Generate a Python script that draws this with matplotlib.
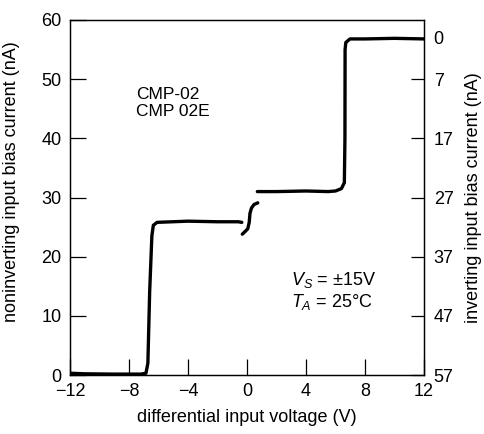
import matplotlib
matplotlib.use('Agg')
import matplotlib.pyplot as plt
import numpy as np

plt.rcParams['font.family'] = ['Liberation Sans', 'DejaVu Sans']
plt.rcParams['axes.unicode_minus'] = True
plt.rcParams['mathtext.fontset'] = 'custom'
plt.rcParams['mathtext.rm'] = 'Liberation Sans'
plt.rcParams['mathtext.it'] = 'Liberation Sans:italic'

# curve pieces (V, nA)
low_x = [-12, -11, -9, -7.2, -6.85, -6.72, -6.6, -6.45, -6.35, -6.1, -4, -2, -0.6, -0.35]
low_y = [0.3, 0.2, 0.15, 0.15, 0.3, 2.0, 14.0, 23.5, 25.3, 25.8, 26.0, 25.9, 25.9, 25.8]

mid_x = [-0.32, -0.15, 0.05, 0.15, 0.2, 0.3, 0.47, 0.73]
mid_y = [23.8, 24.2, 24.7, 25.8, 27.3, 28.2, 28.8, 29.1]

high_x = [0.7, 2, 4, 5.5, 6.0, 6.4, 6.6, 6.64, 6.65, 6.7, 6.98, 8, 10, 12]
high_y = [31.0, 31.0, 31.1, 31.0, 31.1, 31.5, 32.5, 40.0, 55.0, 56.2, 56.8, 56.8, 56.9, 56.8]

xticks = [-12, -8, -4, 0, 4, 8, 12]
yticks_left = [0, 10, 20, 30, 40, 50, 60]
yticks_right = [0, 7, 17, 27, 37, 47, 57]

fig = plt.figure(figsize=(4.85, 4.34), dpi=100)
ax = fig.add_axes([70 / 485, 1 - 375 / 434, 354 / 485, 355 / 434])

for xs, ys in [(low_x, low_y), (mid_x, mid_y), (high_x, high_y)]:
    ax.plot(xs, ys, color='black', lw=2.4, solid_capstyle='round', solid_joinstyle='round')

ax.set_xlim(-12, 12)
ax.set_ylim(0, 60)
ax.set_xticks(xticks)
ax.set_yticks(yticks_left)
ax.tick_params(direction='in', length=11.5, width=0.9, labelsize=13, pad=6)
for s in ax.spines.values():
    s.set_linewidth(0.9)

ax.set_xlabel('differential input voltage (V)', fontsize=13)
ax.xaxis.set_label_coords(0.5, -0.095)
ax.set_ylabel('noninverting input bias current (nA)', fontsize=13)
ax.yaxis.set_label_coords(-0.141, 0.546)

# right axis: inverting current, 0 at the top level of the curve
ax2 = ax.twinx()
ax2.set_ylim(57, -3)
ax2.set_yticks(yticks_right)
ax2.tick_params(direction='in', length=9.5, width=0.9, labelsize=13, pad=7)
ax2.set_ylabel('inverting input bias current (nA)', fontsize=13)
ax2.yaxis.set_label_coords(1.116, 0.50)
for s in ax2.spines.values():
    s.set_linewidth(0.9)

ax.text(-7.5, 46.0, 'CMP-02\nCMP 02E', fontsize=12.5, va='center', ha='left', linespacing=1.2)
ax.text(3.0, 16.0, r'$V_S$ = $\pm$15V', fontsize=13, va='center', ha='left')
ax.text(3.0, 12.3, r'$T_A$ = 25°C', fontsize=13, va='center', ha='left')

fig.savefig('out.png', dpi=100)
